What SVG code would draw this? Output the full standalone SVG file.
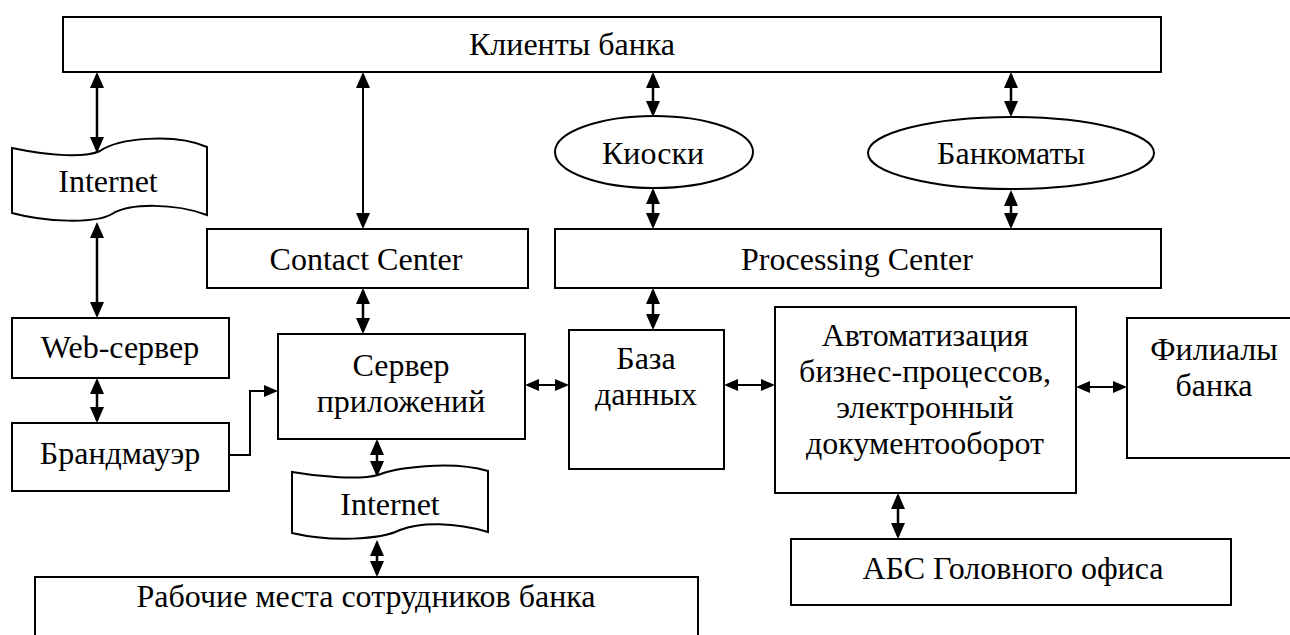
<svg xmlns="http://www.w3.org/2000/svg" width="1290" height="635" viewBox="0 0 1290 635">
<style>
.b{fill:#fff;stroke:#000;stroke-width:2}
.t{font-family:"Liberation Serif","Times New Roman",Times,"DejaVu Serif",serif;font-size:32px;fill:#000;text-anchor:middle}
.c{fill:none;stroke:#000;stroke-width:2.5}
.ch{fill:none;stroke:#000;stroke-width:2}
</style>
<defs>
<marker id="ah" viewBox="0 0 16 14" refX="13" refY="7" markerWidth="16" markerHeight="14" markerUnits="userSpaceOnUse" orient="auto-start-reverse"><path d="M0,0 L16,7 L0,14 Z" fill="#000"/></marker>
<marker id="as" viewBox="0 0 14 12" refX="11" refY="6" markerWidth="14" markerHeight="12" markerUnits="userSpaceOnUse" orient="auto-start-reverse"><path d="M0,0 L14,6 L0,12 Z" fill="#000"/></marker>
</defs>
<rect width="1290" height="635" fill="#fff"/>
<g id="connectors">
<line class="c" x1="97" y1="75" x2="97" y2="150" marker-start="url(#ah)" marker-end="url(#ah)"/>
<line class="c" x1="97" y1="225" x2="97" y2="315" marker-start="url(#ah)" marker-end="url(#ah)"/>
<line class="c" x1="97" y1="381" x2="97" y2="420" marker-start="url(#ah)" marker-end="url(#ah)"/>
<line class="ch" x1="363" y1="75" x2="363" y2="226" marker-start="url(#ah)" marker-end="url(#ah)"/>
<line class="c" x1="363" y1="291" x2="363" y2="331" marker-start="url(#ah)" marker-end="url(#ah)"/>
<line class="c" x1="377" y1="442" x2="377" y2="474" marker-start="url(#ah)" marker-end="url(#ah)"/>
<line class="c" x1="377" y1="543" x2="377" y2="574" marker-start="url(#ah)" marker-end="url(#ah)"/>
<line class="c" x1="653" y1="75" x2="653" y2="114" marker-start="url(#ah)" marker-end="url(#ah)"/>
<line class="c" x1="653" y1="191" x2="653" y2="226" marker-start="url(#ah)" marker-end="url(#ah)"/>
<line class="c" x1="653" y1="291" x2="653" y2="327" marker-start="url(#ah)" marker-end="url(#ah)"/>
<line class="c" x1="1011" y1="75" x2="1011" y2="114" marker-start="url(#ah)" marker-end="url(#ah)"/>
<line class="c" x1="1011" y1="193" x2="1011" y2="226" marker-start="url(#ah)" marker-end="url(#ah)"/>
<line class="c" x1="898" y1="496" x2="898" y2="536" marker-start="url(#ah)" marker-end="url(#ah)"/>
<line class="ch" x1="528" y1="385" x2="566" y2="385" marker-start="url(#as)" marker-end="url(#as)"/>
<line class="ch" x1="727" y1="385" x2="772" y2="385" marker-start="url(#as)" marker-end="url(#as)"/>
<line class="ch" x1="1079" y1="387" x2="1124" y2="387" marker-start="url(#as)" marker-end="url(#as)"/>
<polyline class="ch" points="229,455 250,455 250,391 275,391" marker-end="url(#as)"/>
</g>
<g id="clients"><rect class="b" x="63" y="17" width="1098" height="55"/><text class="t" x="572" y="55">Клиенты банка</text></g>
<g id="internet1"><path class="b" d="M12,148 C50,156 85,158 100,151 C118,138 175,133 207,147 L207,215 C175,203 130,203 112,214 C95,224 45,222 12,213 Z"/><text class="t" x="108" y="192">Internet</text></g>
<g id="contact"><rect class="b" x="207" y="229" width="321" height="59"/><text class="t" x="366" y="270">Contact Center</text></g>
<g id="processing"><rect class="b" x="555" y="229" width="606" height="59"/><text class="t" x="857" y="270">Processing Center</text></g>
<g id="kiosks"><ellipse class="b" cx="654" cy="152" rx="99" ry="36"/><text class="t" x="653" y="164">Киоски</text></g>
<g id="atms"><ellipse class="b" cx="1011" cy="153" rx="143" ry="36"/><text class="t" x="1011" y="164">Банкоматы</text></g>
<g id="web"><rect class="b" x="12" y="318" width="217" height="60"/><text class="t" x="120" y="358">Web-сервер</text></g>
<g id="firewall"><rect class="b" x="12" y="423" width="217" height="68"/><text class="t" x="120" y="464">Брандмауэр</text></g>
<g id="appserver"><rect class="b" x="278" y="334" width="247" height="105"/><text class="t" x="401" y="376">Сервер</text><text class="t" x="401" y="412">приложений</text></g>
<g id="db"><rect class="b" x="569" y="330" width="155" height="139"/><text class="t" x="646" y="369">База</text><text class="t" x="646" y="405">данных</text></g>
<g id="automation"><rect class="b" x="775" y="307" width="301" height="186"/><text class="t" x="925" y="346">Автоматизация</text><text class="t" x="925" y="382">бизнес-процессов,</text><text class="t" x="925" y="418">электронный</text><text class="t" x="925" y="454">документооборот</text></g>
<g id="branches"><rect class="b" x="1127" y="318" width="175" height="140"/><text class="t" x="1214" y="360">Филиалы</text><text class="t" x="1214" y="396">банка</text></g>
<g id="internet2"><path class="b" d="M292,472 C320,477 360,480 378,475 C395,468 450,460 488,471 L488,532 C455,522 420,522 400,530 C380,540 330,542 292,533 Z"/><text class="t" x="390" y="515">Internet</text></g>
<g id="abs"><rect class="b" x="791" y="539" width="440" height="66"/><text class="t" x="1013" y="579">АБС Головного офиса</text></g>
<g id="workplaces"><rect class="b" x="35" y="577" width="663" height="70"/><text class="t" x="366" y="607">Рабочие места сотрудников банка</text></g>
</svg>
